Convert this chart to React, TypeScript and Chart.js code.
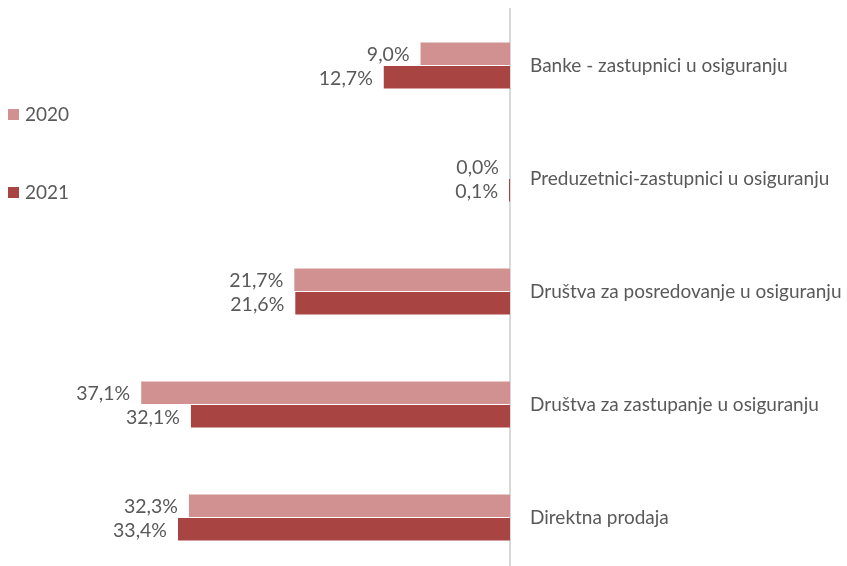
import React, { useEffect, useRef } from "react";
import { Chart, registerables } from "chart.js";

Chart.register(...registerables);

const categories = [
  "Banke - zastupnici u osiguranju",
  "Preduzetnici-zastupnici u osiguranju",
  "Društva za posredovanje u osiguranju",
  "Društva za zastupanje u osiguranju",
  "Direktna prodaja",
];
const seriesNames = ["2020", "2021"];
const values2020 = [9.0, 0.0, 21.7, 37.1, 32.3];
const values2021 = [12.7, 0.1, 21.6, 32.1, 33.4];
const seriesColors = ["#D29191", "#A84543"];

const FONT = "Lato, 'Open Sans', sans-serif";
const TEXT_COLOR = "#595959";

const fmt = (v: number) => v.toFixed(1).replace(".", ",") + "%";

const valueLabels = {
  id: "valueLabels",
  afterDatasetsDraw(chart: any) {
    const ctx = chart.ctx;
    ctx.save();
    ctx.font = `19.5px ${FONT}`;
    ctx.fillStyle = TEXT_COLOR;
    ctx.textAlign = "right";
    ctx.textBaseline = "middle";
    chart.data.datasets.forEach((ds: any, di: number) => {
      const meta = chart.getDatasetMeta(di);
      meta.data.forEach((bar: any, i: number) => {
        ctx.fillText(fmt(ds.data[i]), bar.x - 11, bar.y + 1);
      });
    });
    ctx.restore();
  },
};

const sideLegend = {
  id: "sideLegend",
  afterDraw(chart: any) {
    const ctx = chart.ctx;
    const rows = [114, 192];
    ctx.save();
    ctx.font = `19px ${FONT}`;
    ctx.textAlign = "left";
    ctx.textBaseline = "middle";
    chart.data.datasets.forEach((ds: any, i: number) => {
      const y = rows[i];
      ctx.fillStyle = ds.backgroundColor;
      ctx.fillRect(8, y - 5, 11, 11);
      ctx.fillStyle = TEXT_COLOR;
      ctx.fillText(ds.label, 25, y + 1);
    });
    ctx.restore();
  },
};

export default function App() {
  const ref = useRef<HTMLCanvasElement | null>(null);
  useEffect(() => {
    if (!ref.current) return;
    const chart = new Chart(ref.current, {
      type: "bar",
      data: {
        labels: categories,
        datasets: [
          { label: seriesNames[0], data: values2020, backgroundColor: seriesColors[0] },
          { label: seriesNames[1], data: values2021, backgroundColor: seriesColors[1] },
        ],
      },
      options: {
        indexAxis: "y",
        responsive: false,
        animation: false,
        layout: { padding: { top: 9, left: 13, bottom: 0, right: 0 } },
        datasets: {
          bar: { categoryPercentage: 0.416, barPercentage: 0.957 },
        },
        plugins: {
          legend: { display: false },
          tooltip: { enabled: false },
        },
        scales: {
          x: {
            reverse: true,
            min: 0,
            max: 50,
            display: false,
          },
          y: {
            position: "right",
            z: 1,
            grid: { display: false },
            border: { display: true, color: "#D9D9D9", width: 2 },
            ticks: {
              padding: 12,
              color: TEXT_COLOR,
              font: { family: FONT, size: 19 },
            },
            afterFit(scale: any) {
              scale.width = 337;
              scale.paddingTop = 0;
              scale.paddingBottom = 0;
            },
          },
        },
      },
      plugins: [valueLabels, sideLegend],
    });
    return () => chart.destroy();
  }, []);
  return (
    <div style={{ position: "absolute", left: 0, top: 0, width: 847, height: 566, overflow: "hidden", background: "#fff" }}>
      <canvas ref={ref} width={847} height={574} style={{ width: 847, height: 574, display: "block" }} />
    </div>
  );
}
